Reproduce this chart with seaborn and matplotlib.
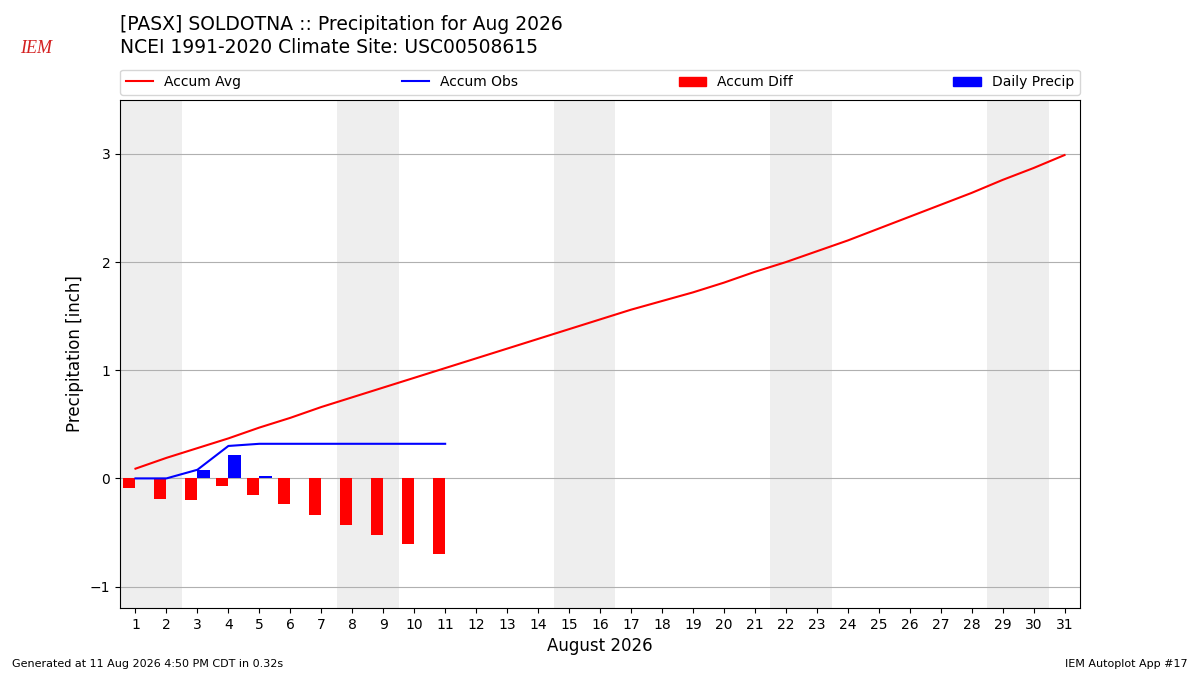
import numpy as np
import pandas as pd
import matplotlib
matplotlib.use("Agg")
import matplotlib.pyplot as plt
from matplotlib.patches import Patch
from matplotlib.lines import Line2D
import seaborn as sns

# values
days = list(range(1, 32))
accum_avg = [0.09, 0.19, 0.28, 0.37, 0.47, 0.56, 0.66, 0.75, 0.84, 0.93,
             1.02, 1.11, 1.20, 1.29, 1.38, 1.47, 1.56, 1.64, 1.72, 1.81,
             1.91, 2.00, 2.10, 2.20, 2.31, 2.42, 2.53, 2.64, 2.76, 2.87, 2.99]
obs_days = list(range(1, 12))
daily_precip = [0.0, 0.0, 0.08, 0.22, 0.02, 0.0, 0.0, 0.0, 0.0, 0.0, 0.0]
weekend_days = [1, 2, 8, 9, 15, 16, 22, 23, 29, 30]

df_avg = pd.DataFrame({"day": days, "avg": accum_avg})
df_obs = pd.DataFrame({"day": obs_days, "daily": daily_precip})
df_obs["accum"] = df_obs["daily"].cumsum()
df_obs["diff"] = df_obs["accum"] - df_avg["avg"][:len(obs_days)].values

fig = plt.figure(figsize=(12, 6.75), dpi=100)
ax = fig.add_axes([0.1, 0.099, 0.8, 0.753])

# weekend shading
for d in weekend_days:
    ax.axvspan(d - 0.5, d + 0.5, color="#eeeeee", zorder=0, lw=0)

ax.grid(axis="y", color="#b0b0b0", lw=0.8, zorder=1)

ax.bar(df_obs["day"] - 0.4, df_obs["diff"], width=0.4, align="edge",
       color="red", zorder=3)
ax.bar(df_obs["day"], df_obs["daily"], width=0.4, align="edge",
       color="blue", zorder=3)
sns.lineplot(data=df_avg, x="day", y="avg", color="red", lw=1.5, ax=ax, zorder=4)
sns.lineplot(data=df_obs, x="day", y="accum", color="blue", lw=1.5, ax=ax, zorder=4)

ax.set_xlim(0.5, 31.5)
ax.set_ylim(-1.2, 3.5)
ax.set_xticks(days)
ax.set_yticks([-1, 0, 1, 2, 3])
ax.tick_params(labelsize=10)
ax.set_xlabel("August 2026", fontsize=12)
ax.set_ylabel("Precipitation [inch]", fontsize=12)

handles = [Line2D([], [], color="red", lw=1.5),
           Line2D([], [], color="blue", lw=1.5),
           Patch(color="red"), Patch(color="blue")]
ax.legend(handles, ["Accum Avg", "Accum Obs", "Accum Diff", "Daily Precip"],
          ncol=4, mode="expand", loc="lower left",
          bbox_to_anchor=(0, 1.01, 1, 0.05), borderaxespad=0, fontsize=10)

fig.text(0.1, 0.915, "[PASX] SOLDOTNA :: Precipitation for Aug 2026\n"
         "NCEI 1991-2020 Climate Site: USC00508615",
         fontsize=13.5, va="bottom", ha="left", linespacing=1.3)
fig.text(0.017, 0.922, "IEM", color="#d42020", fontsize=13,
         family="Liberation Serif", style="italic")
fig.text(0.01, 0.012, "Generated at 11 Aug 2026 4:50 PM CDT in 0.32s", fontsize=8)
fig.text(0.99, 0.012, "IEM Autoplot App #17", fontsize=8, ha="right")

fig.savefig("out.png", dpi=100)
